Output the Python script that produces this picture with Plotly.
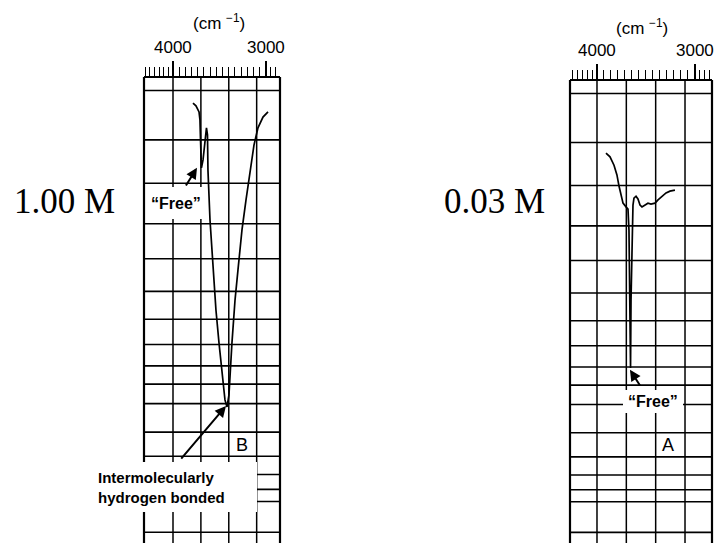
import numpy as np
import plotly.graph_objects as go

W, H = 716, 543

# ---- spectra: wavenumber (cm-1) and chart transmittance units (0-100) ----
# 1.00 M solution
wn_100 = [3785, 3753, 3720, 3710, 3704, 3699, 3694, 3677, 3656, 3640, 3629, 3624,
          3602, 3570, 3538, 3505, 3473, 3441, 3419, 3398, 3366, 3333, 3301, 3258,
          3215, 3172, 3129, 3086, 3032, 2978]
t_100 = [94.4, 93.8, 92.5, 90.8, 86.5, 82.2, 80.5, 82.2, 86.5, 89.1, 87.6, 80.0,
         69.3, 58.6, 50.0, 42.9, 36.1, 30.7, 29.2, 31.8, 42.9, 52.1, 58.6, 67.2,
         73.6, 80.0, 85.4, 89.1, 91.4, 92.5]

# 0.03 M solution
wn_003 = [3908, 3867, 3826, 3796, 3775, 3755, 3734, 3703, 3683, 3673, 3663, 3657,
          3652, 3642, 3632, 3622, 3601, 3581, 3560, 3540, 3509, 3479, 3448, 3407,
          3376, 3335, 3294, 3254, 3203]
t_003 = [84.2, 83.4, 81.6, 79.5, 77.1, 74.9, 73.4, 72.6, 72.1, 67.6, 52.5, 37.8,
         52.5, 67.6, 73.0, 74.5, 74.9, 74.3, 73.0, 72.6, 73.0, 73.4, 73.2, 73.4,
         74.1, 74.9, 75.6, 76.0, 76.2]

# chart paper rulings
grid_wn = [4000, 3700, 3400, 3100]
grid_t = [97.1, 86.5, 77.2, 68.5, 61.0, 54.0, 48.0, 42.6, 38.0, 34.1, 29.9,
          23.8, 18.6, 14.7, 11.5, 8.9, 2.3]
label_wn = [4000, 3000]
label_txt = ["4000", "3000"]

ruler_left = list(np.arange(4300, 4000, -50)) + list(np.linspace(4000, 3000, 16)[1:-1]) + [2950, 2900]
ruler_right = list(np.arange(4250, 4000, -50)) + list(np.linspace(4000, 3000, 15)[1:-1]) + [2950, 2900, 2850]


def px(x):
    return x / W


def py(y):
    return 1 - y / H


# panel geometry (paper fractions)
panels = {
    "left": dict(xd=[px(144), px(280)], yd=[0, py(77)], rng=[4312, 2849],
                 ax="x", ay="y", ruler=ruler_left, lab_y=py(47), unit_y=py(22), unit_wn=3505),
    "right": dict(xd=[px(570), px(712)], yd=[0, py(80)], rng=[4276, 2824],
                  ax="x2", ay="y2", ruler=ruler_right, lab_y=py(51), unit_y=py(27), unit_wn=3540),
}

FONT = "Liberation Sans, Arial, sans-serif"
SERIF = "Liberation Serif, Times New Roman, serif"


def label(x, y, text, size, family=FONT, xref="paper", yref="paper", **kw):
    return dict(x=x, y=y, xref=xref, yref=yref, text=text, showarrow=False,
                xanchor="center", yanchor="middle",
                font=dict(family=family, size=size, color="black"), **kw)


fig = go.Figure()
fig.add_trace(go.Scatter(x=wn_100, y=t_100, mode="lines", xaxis="x", yaxis="y",
                         line=dict(color="black", width=1.7), hoverinfo="skip"))
fig.add_trace(go.Scatter(x=wn_003, y=t_003, mode="lines", xaxis="x2", yaxis="y2",
                         line=dict(color="black", width=1.7), hoverinfo="skip"))

shapes = []
annotations = []
layout_axes = {}

for name, p in panels.items():
    xa, ya = p["ax"], p["ay"]
    xkey = "xaxis" if xa == "x" else "xaxis2"
    ykey = "yaxis" if ya == "y" else "yaxis2"
    layout_axes[xkey] = dict(
        domain=p["xd"], anchor=ya, range=p["rng"], side="top",
        showgrid=False, zeroline=False, showline=False, showticklabels=False,
        ticks="outside", tickvals=label_wn, ticklen=15, tickwidth=1.6, tickcolor="black",
        minor=dict(tickmode="array", tickvals=p["ruler"], ticks="outside", ticklen=9,
                   tickwidth=1.2, tickcolor="black", showgrid=False),
    )
    layout_axes[ykey] = dict(domain=p["yd"], anchor=xa, range=[0, 100], visible=False)

    x0, x1 = p["xd"]
    y0, y1 = p["yd"]
    lo, hi = p["rng"]
    # vertical rulings
    for w in grid_wn:
        xf = x0 + (x1 - x0) * (lo - w) / (lo - hi)
        shapes.append(dict(type="line", xref="paper", yref="paper", x0=xf, x1=xf, y0=y0, y1=y1,
                           line=dict(color="black", width=1.5), layer="below"))
    # horizontal rulings
    for t in grid_t:
        yf = y0 + (y1 - y0) * t / 100
        shapes.append(dict(type="line", xref="paper", yref="paper", x0=x0, x1=x1, y0=yf, y1=yf,
                           line=dict(color="black", width=1.6), layer="below"))
    # chart frame: left, right, top
    for seg in [(x0, y0, x0, y1), (x1, y0, x1, y1), (x0, y1, x1, y1)]:
        shapes.append(dict(type="line", xref="paper", yref="paper",
                           x0=seg[0], y0=seg[1], x1=seg[2], y1=seg[3],
                           line=dict(color="black", width=2.2), layer="below"))
    # wavenumber labels
    for w, txt in zip(label_wn, label_txt):
        annotations.append(label(w, p["lab_y"], txt, 17, xref=xa))
    annotations.append(label(p["unit_wn"], p["unit_y"], "(cm <sup>−1</sup>)", 17, xref=xa))

# white label backgrounds over the rulings
for (a, b, c, d) in [(146, 187, 206, 219),   # "Free" (left)
                     (95, 462, 257, 512),    # bonded caption
                     (623, 390, 683, 413),   # "Free" (right)
                     (660, 437, 679, 455)]:  # "A"
    shapes.append(dict(type="rect", xref="paper", yref="paper",
                       x0=px(a), x1=px(c), y0=py(d), y1=py(b),
                       fillcolor="white", line=dict(width=0), layer="below"))

# concentration labels
annotations.append(label(px(64), py(201), "1.00 M", 35, family=SERIF))
annotations.append(label(px(494), py(202), "0.03 M", 35, family=SERIF))

# band labels
annotations.append(label(px(176), py(203), "<b>“Free”</b>", 16))
annotations.append(label(px(653), py(401), "<b>“Free”</b>", 16))
annotations.append(label(px(161), py(487), "<b>Intermolecularly<br>hydrogen bonded</b>", 15,
                         align="left"))
annotations.append(label(px(242), py(445), "B", 18))
annotations.append(label(px(668), py(445), "A", 18))

# arrows (head at the band, tail at the label)
for xa, ya, hx, hy, tx, ty in [("x", "y", 3742, 80.5, 3871, 76.4),
                               ("x", "y", 3430, 29.4, 3925, 17.8),
                               ("x2", "y2", 3663, 37.4, 3550, 33.7)]:
    annotations.append(dict(x=hx, y=hy, xref=xa, yref=ya, ax=tx, ay=ty, axref=xa, ayref=ya,
                            text="", showarrow=True, arrowhead=2, arrowsize=1.1,
                            arrowwidth=2, arrowcolor="black", standoff=0))

fig.update_layout(
    width=W, height=H, margin=dict(l=0, r=0, t=0, b=0),
    paper_bgcolor="white", plot_bgcolor="white", showlegend=False,
    shapes=shapes, annotations=annotations, **layout_axes,
)

fig.write_html("out.html", config={"displayModeBar": False})
